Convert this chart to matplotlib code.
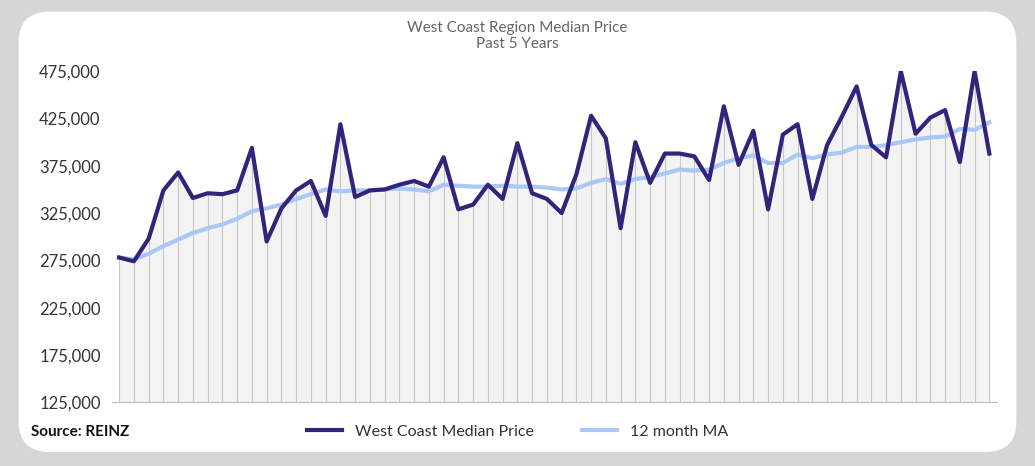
import numpy as np
import matplotlib.pyplot as plt
from matplotlib.patches import FancyBboxPatch

plt.rcParams['font.family'] = ['Lato', 'DejaVu Sans']

# Monthly median price, past 5 years
median = [278, 274, 298, 349, 368, 341, 346, 345, 349, 394, 295, 330, 349, 359, 322,
          419, 342, 349, 350, 355, 359, 353, 384, 329, 334, 355, 340, 399, 346, 340,
          325, 366, 428, 404, 309, 400, 357, 388, 388, 385, 360, 438, 376, 412, 329,
          408, 419, 340, 397, 427, 459, 397, 384, 475, 409, 426, 434, 379, 475, 388]
ma12 = [278, 276, 282, 290, 297, 304, 309, 313, 319, 327, 330, 334, 340, 345, 350,
        348, 349, 349, 350, 351, 350, 348, 355, 354, 353, 353, 354, 353, 353, 352,
        350, 351, 357, 361, 356, 361, 363, 367, 371, 370, 371, 378, 383, 386, 378,
        378, 387, 383, 387, 389, 395, 395, 397, 400, 403, 405, 406, 414, 413, 421]
median = np.array(median) * 1000
ma12 = np.array(ma12) * 1000
x = np.arange(len(median))

fig = plt.figure(figsize=(10.35, 4.66), dpi=100)
fig.patch.set_facecolor('#d6d6d6')
card = FancyBboxPatch((0.018, 0.03), 0.964, 0.945, boxstyle="round,pad=0,rounding_size=0.03",
                      transform=fig.transFigure, facecolor='white', edgecolor='none',
                      mutation_aspect=2.2, zorder=-10)
fig.patches.append(card)

ax = fig.add_axes([0.108, 0.137, 0.855, 0.71])
ax.set_facecolor('none')

# grey fill with drop lines under the median
ax.fill_between(x, 125000, median, color='#f3f3f3', zorder=1)
ax.vlines(x, 125000, median, color='#c8c8c8', lw=0.8, zorder=2)
ax.plot(x, ma12, color='#a9c8f7', lw=3, zorder=3, label='12 month MA')
ax.plot(x, median, color='#33237a', lw=3, zorder=4, label='West Coast Median Price')

ax.set_ylim(125000, 475000)
ax.set_xlim(-0.5, len(x) - 0.5)
ax.set_yticks(np.arange(125000, 475001, 50000))
ax.set_yticklabels([f'{v:,}' for v in range(125000, 475001, 50000)])
ax.set_xticks([])
ax.tick_params(axis='y', length=0, labelsize=12, colors='#333333', pad=8)
for s in ax.spines.values():
    s.set_visible(False)
ax.spines['bottom'].set_visible(True)
ax.spines['bottom'].set_color('#bbbbbb')

fig.text(0.5, 0.94, 'West Coast Region Median Price', ha='center', va='center', fontsize=11, color='#666666')
fig.text(0.5, 0.905, 'Past 5 Years', ha='center', va='center', fontsize=11, color='#666666')
fig.text(0.03, 0.072, 'Source: REINZ', fontsize=11, fontweight='bold', color='#111111', va='center')

h, l = ax.get_legend_handles_labels()
fig.legend(h[::-1], l[::-1], loc='center', bbox_to_anchor=(0.5, 0.073), ncol=2, frameon=False,
           fontsize=11.5, handlelength=2.2, columnspacing=3, labelcolor='#333333')

fig.savefig('out.png', dpi=100, facecolor=fig.get_facecolor())
